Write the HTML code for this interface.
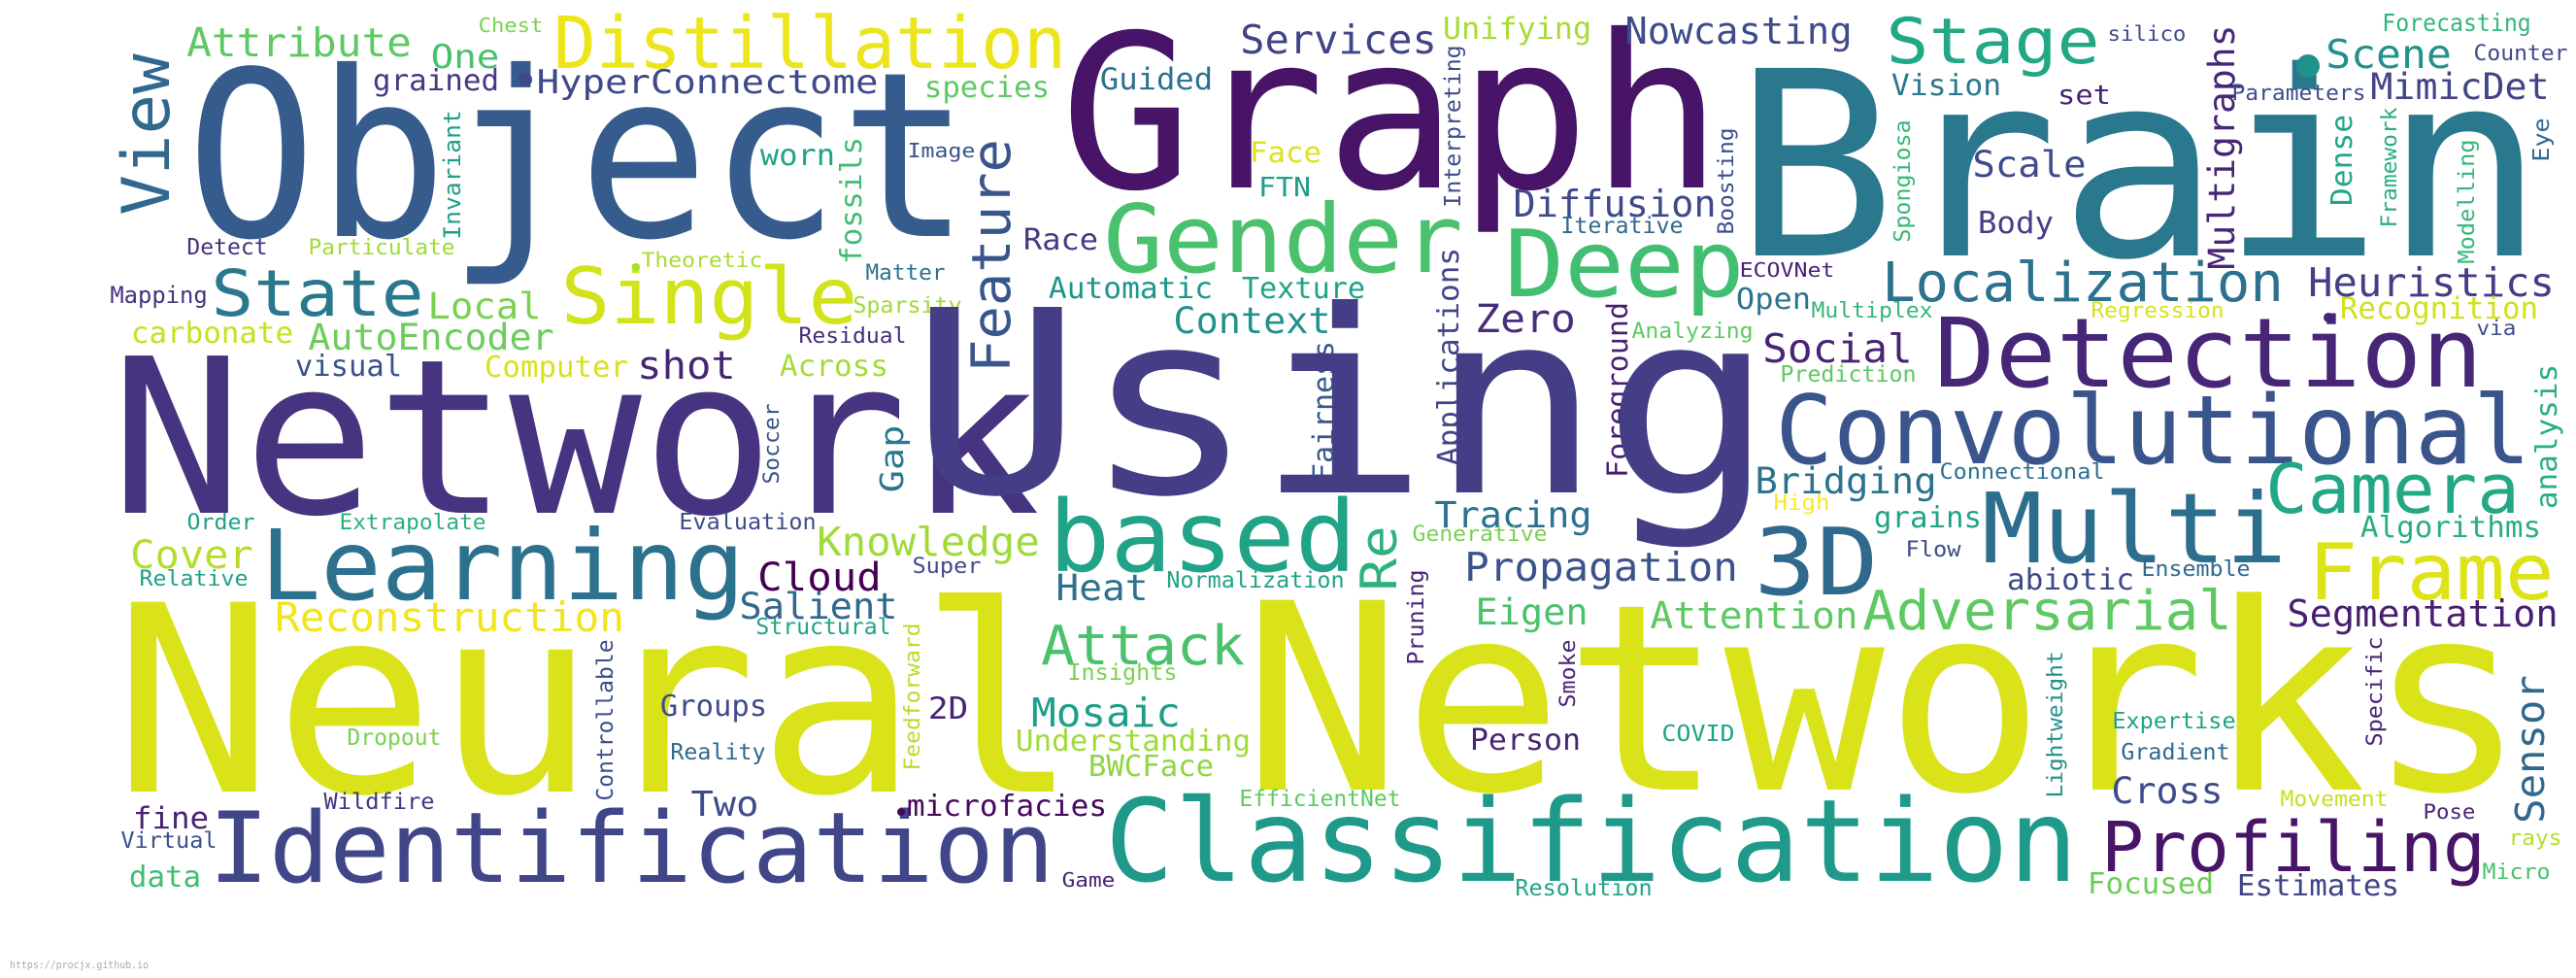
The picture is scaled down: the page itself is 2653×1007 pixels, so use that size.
<!DOCTYPE html>
<html>
<head>
<meta charset="utf-8">
<style>
html,body{margin:0;padding:0;background:#fff;}
svg{display:block;}
text{font-family:"DejaVu Sans Mono","Liberation Mono",monospace;}
</style>
</head>
<body>
<svg id="cloud" width="2653" height="1007" viewBox="0 0 2653 1007" xmlns="http://www.w3.org/2000/svg">
<rect width="2653" height="1007" fill="#ffffff"/>
<text x="10" y="997" font-size="11" fill="#aaaaaa" font-family="Liberation Serif, serif" textLength="143" lengthAdjust="spacingAndGlyphs">https://procjx.github.io</text>
</svg>
<script>
const words = ["Object","View","Attribute","One","Chest","Distillation","grained","HyperConnectome","Invariant","worn","fossils","Detect","Particulate","Theoretic","State","Single","Mapping","Local","carbonate","AutoEncoder","Residual","visual","Computer","shot","Across","Soccer","Network","Graph","Services","Unifying","Nowcasting","species","Guided","Interpreting","Image","Face","FTN","Feature","Race","Gender","Diffusion","Iterative","Deep","Matter","Automatic","Texture","Sparsity","Context","Zero","Analyzing","Applications","Fairness","Foreground","Gap","Using","Brain","Stage","silico","Multigraphs","Scene","Forecasting","Counter","Vision","set","Parameters","MimicDet","Boosting","Spongiosa","Scale","Body","Dense","Framework","Modelling","Eye","ECOVNet","Open","Multiplex","Localization","Heuristics","Recognition","Regression","via","Social","Prediction","Detection","Convolutional","Bridging","Connectional","analysis","Order","Extrapolate","Evaluation","Knowledge","Cover","Relative","Learning","Cloud","Salient","Structural","Reconstruction","Neural","Controllable","Groups","Dropout","Reality","Wildfire","Two","fine","Virtual","data","Identification","based","Super","Heat","Normalization","Re","Tracing","Generative","Propagation","Eigen","Attention","Pruning","Attack","Insights","Feedforward","2D","Mosaic","Understanding","BWCFace","Smoke","Person","COVID","Networks","microfacies","EfficientNet","Classification","Game","Resolution","3D","High","grains","Flow","Multi","Camera","Algorithms","abiotic","Ensemble","Frame","Adversarial","Segmentation","Lightweight","Expertise","Gradient","Specific","Sensor","Cross","Movement","Pose","Profiling","Focused","Estimates","rays","Micro"];
const wordX = [208,174,195,446,494,575,386,555,474,785,887,194,319,662,222,583,115,443,137,320,824,306,501,659,805,802,129,1107,1280,1488,1676,954,1135,1504,936,1289,1298,1040,1056,1143,1561,1609,1556,893,1082,1281,880,1211,1522,1682,1502,1373,1676,930,955,1804,1947,2172,2301,2398,2455,2549,1950,2121,2300,2444,1785,1967,2034,2039,2422,2468,2548,2625,1793,1790,1867,1942,2380,2412,2155,2552,1818,1835,1999,1835,1810,1999,2633,194,351,701,844,137,145,275,783,764,780,286,135,631,682,359,692,335,714,139,126,135,222,1087,941,1090,1203,1438,1480,1456,1511,1522,1702,1466,1076,1101,947,958,1065,1048,1123,1622,1516,1713,1298,936,1278,1146,1095,1562,1813,1828,1932,1964,2048,2338,2433,2069,2207,2383,1922,2358,2124,2177,2186,2453,2620,2177,2350,2497,2169,2152,2306,2585,2558];
const wordY = [243,217,58,70,33,70,93,96,245,170,270,262,262,275,325,333,312,328,353,360,353,387,388,390,387,497,528,193,55,40,45,100,92,212,162,167,202,380,257,280,223,240,305,288,307,307,322,343,342,348,477,493,490,505,507,263,65,42,275,70,32,62,98,107,103,102,240,248,182,240,210,233,270,165,285,318,327,310,305,328,327,345,373,393,398,477,508,493,522,545,545,545,572,585,603,617,608,637,653,650,815,823,737,767,782,833,840,853,873,913,908,588,590,618,605,605,543,557,598,643,647,683,684,700,792,740,748,773,799,727,772,763,813,840,830,907,913,922,612,525,543,573,579,528,553,607,593,617,648,645,820,750,782,767,845,827,830,843,897,920,922,870,905];
const wordSize = [237,68,41,34,20,74,30,34,24,30,30,23,22,21,66,80,24,37,30,37,22,30,30,40,30,22,222,220,41,31,38,30,31,23,20,29,28,55,30,97,38,23,95,22,30,30,23,37,40,22,30,29,29,33,262,265,65,21,37,41,25,22,30,28,22,37,22,23,37,31,30,22,23,23,20,30,22,56,41,31,22,21,41,23,99,98,37,22,30,22,22,23,41,40,22,100,40,37,23,42,268,23,30,23,23,23,36,31,23,30,101,102,22,37,23,52,37,22,41,37,38,23,56,23,22,31,41,30,30,22,30,23,268,30,23,118,20,23,95,22,30,22,100,70,30,30,22,80,56,38,22,23,23,22,41,37,22,21,71,30,30,22,22];
const wordLen = [775,157,226,66,64,518,126,347,130,73,127,80,148,122,210,295,97,112,163,248,108,106,144,96,108,80,927,652,197,149,229,125,112,164,67,70,50,233,73,357,204,123,234,79,165,123,109,157,98,122,220,140,177,65,855,799,211,78,247,124,150,94,109,51,135,179,107,123,112,74,90,121,125,42,95,73,122,406,248,200,134,38,149,137,551,765,182,167,145,67,148,138,224,121,109,485,122,158,136,354,958,163,106,94,95,111,65,74,96,70,857,303,68,90,180,60,157,136,276,111,209,95,202,110,149,37,148,238,125,67,110,72,1286,202,163,986,52,138,115,55,107,54,300,252,182,127,109,242,373,274,148,124,109,110,147,110,108,51,386,126,163,52,67];
const wordColor = ["#365c8d","#31688e","#5ec962","#4ac16d","#7ad151","#ece51b","#443983","#3e4989","#1f9e89","#20a386","#3fbc73","#46327e","#a0da39","#a8db34","#2a788e","#d2e21b","#46337e","#7ad151","#c8e020","#6ccd5a","#472d7b","#3b528b","#d8e219","#482475","#a5db36","#3b528b","#463480","#481467","#414487","#a8db34","#3e4c8a","#5ec962","#2c728e","#3e4c8a","#3b528b","#dde318","#1f9e89","#39568c","#443983","#4ac16d","#3e4a89","#31688e","#42be71","#2c728e","#1f968b","#20a386","#a0da39","#21918c","#472d7b","#5ec962","#404688","#38598c","#481f70","#2a788e","#433e85","#2a788e","#22a884","#3e4c8a","#482677","#21918c","#35b779","#3e4c8a","#2a788e","#482475","#3e4c8a","#414487","#3e4c8a","#35b779","#3e4c8a","#433e85","#21a685","#29af7f","#35b779","#31688e","#482475","#2c728e","#35b779","#2c728e","#433e85","#d0e11c","#d8e219","#3e4c8a","#482475","#5ec962","#482677","#3a548c","#2c728e","#2c728e","#29af7f","#1fa187","#29af7f","#3e4c8a","#a0da39","#b5de2b","#1fa187","#2c728e","#440154","#31688e","#20a386","#f1e51d","#dae319","#3e4c8a","#3e4c8a","#7ad151","#31688e","#453781","#3e4c8a","#482475","#3b528b","#3fbc73","#404688","#20a386","#3e4c8a","#2c728e","#20a386","#2db27d","#2c728e","#7ad151","#3b528b","#4ac16d","#5ec962","#482475","#4ac16d","#7ad151","#b5de2b","#482475","#1f9e89","#a0da39","#8ed645","#482475","#482475","#20a386","#dae319","#46085c","#5ec962","#1f9a8a","#482475","#20a386","#31688e","#fde725","#20a386","#3e4c8a","#2c6e8e","#22a884","#29af7f","#3e4989","#31688e","#dde318","#5ec962","#481f70","#21918c","#20a386","#31688e","#482475","#31688e","#3e4c8a","#c8e020","#482475","#481467","#6ccd5a","#414487","#b5de2b","#4ac16d"];
const wordVertical = ["View","Invariant","fossils","Soccer","Interpreting","Feature","Applications","Fairness","Foreground","Gap","Multigraphs","Boosting","Spongiosa","Dense","Framework","Modelling","Eye","analysis","Controllable","Re","Pruning","Feedforward","Smoke","Lightweight","Specific","Sensor"];
const dotX = [541,655,2377,2398,928];
const dotY = [82,275,68,327,836];
const dotR = [7,4,12,5,4];
const dotColor = ["#3e4989","#a8db34","#21918c","#482677","#46085c"];

const svg = document.getElementById('cloud');
const NS = 'http://www.w3.org/2000/svg';
for (let i = 0; i < words.length; i++) {
  const fs = wordSize[i];
  const pad = 0.07 * fs;
  const t = document.createElementNS(NS, 'text');
  t.textContent = words[i];
  t.setAttribute('font-size', fs);
  t.setAttribute('fill', wordColor[i]);
  t.setAttribute('textLength', (wordLen[i] + 2 * pad).toFixed(1));
  t.setAttribute('lengthAdjust', 'spacingAndGlyphs');
  if (wordVertical.indexOf(words[i]) >= 0) {
    t.setAttribute('x', 0);
    t.setAttribute('y', 0);
    t.setAttribute('transform', 'translate(' + wordX[i] + ',' + (wordY[i] + pad) + ') rotate(-90)');
  } else {
    t.setAttribute('x', wordX[i] - pad);
    t.setAttribute('y', wordY[i]);
  }
  
  
  svg.appendChild(t);
}
for (let i = 0; i < dotX.length; i++) {
  const c = document.createElementNS(NS, 'circle');
  c.setAttribute('cx', dotX[i]);
  c.setAttribute('cy', dotY[i]);
  c.setAttribute('r', dotR[i]);
  c.setAttribute('fill', dotColor[i]);
  
  
  svg.appendChild(c);
}
</script>
</body>
</html>
